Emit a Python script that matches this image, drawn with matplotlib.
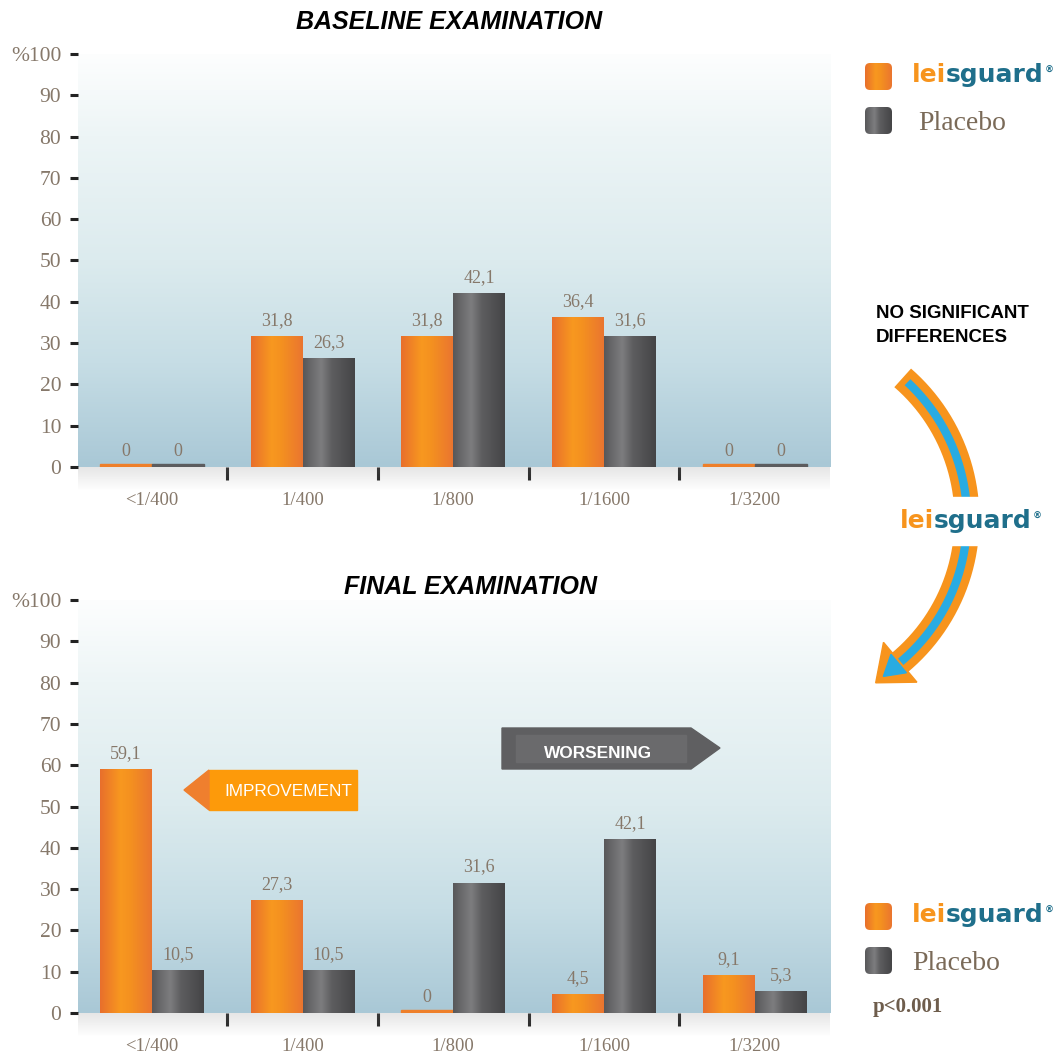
import numpy as np
import matplotlib.pyplot as plt
from matplotlib.colors import LinearSegmentedColormap
from matplotlib.patches import Polygon, Rectangle, FancyBboxPatch

# titre classes and % of dogs in each class
categories = ["<1/400", "1/400", "1/800", "1/1600", "1/3200"]
baseline_leisguard = [0, 31.8, 31.8, 36.4, 0]
baseline_placebo = [0, 26.3, 42.1, 31.6, 0]
final_leisguard = [59.1, 27.3, 0, 4.5, 9.1]
final_placebo = [10.5, 10.5, 31.6, 42.1, 5.3]
yticks = [0, 10, 20, 30, 40, 50, 60, 70, 80, 90, 100]
ytick_labels = ["0", "10", "20", "30", "40", "50", "60", "70", "80", "90", "%100"]

ORANGE = "#f7941d"
TEAL = "#1f6f8b"
BLUE = "#29abe2"
BROWN = "#86786a"
BAR_W = 0.345

plt.rcParams["font.family"] = ["Liberation Serif", "DejaVu Serif"]

orange_cmap = LinearSegmentedColormap.from_list(
    "orange", [(0, "#e86f2c"), (0.4, "#f8981f"), (0.6, "#f49020"), (1, "#ea7530")])
gray_cmap = LinearSegmentedColormap.from_list(
    "gray", [(0, "#58585a"), (0.35, "#7d7d7f"), (0.55, "#5e5e60"), (1, "#444446")])
bg_cmap = LinearSegmentedColormap.from_list(
    "bg", [(0, "#a9c8d6"), (0.25, "#c6dde5"), (0.5, "#dcebee"), (0.8, "#edf5f6"), (1, "#fdfefe")])

hgrad = np.linspace(0, 1, 256).reshape(1, -1)
vgrad = np.linspace(0, 1, 256).reshape(-1, 1)


def fmt(v):
    return f"{v:g}".replace(".", ",")


def draw_panel(ax, lei, pla):
    ax.imshow(vgrad, cmap=bg_cmap, extent=[0, 1, 0, 1], transform=ax.transAxes,
              aspect="auto", origin="lower", zorder=0)
    x = np.arange(len(categories))
    for offset, vals, cmap, stub in [(-BAR_W / 2, lei, orange_cmap, "#ee7f2a"),
                                     (BAR_W / 2, pla, gray_cmap, "#5c5c5e")]:
        bars = ax.bar(x + offset, vals, BAR_W, color="none", zorder=2)
        for b, v in zip(bars, vals):
            if v > 0:
                im = ax.imshow(hgrad, cmap=cmap, aspect="auto", zorder=2,
                               extent=[b.get_x(), b.get_x() + b.get_width(), 0, v])
                im.set_clip_path(b)
            else:
                # flat stub so empty classes still show on the baseline
                ax.add_patch(Rectangle((b.get_x(), 0), b.get_width(), 0.8,
                                       color=stub, zorder=2))
            ax.annotate(fmt(v), (b.get_x() + b.get_width() / 2, v), xytext=(0, 5),
                        textcoords="offset points", ha="center", va="bottom",
                        fontsize=13, color=BROWN)
    ax.set_xlim(-0.49, 4.5)
    ax.set_ylim(0, 100)
    ax.set_yticks(yticks, ytick_labels)
    ax.tick_params(axis="y", length=6, width=2.2, color="#222222", pad=6,
                   labelsize=15.5, labelcolor=BROWN)
    ax.set_xticks(x, categories)
    ax.set_xticks(x[:-1] + 0.5, minor=True)
    ax.tick_params(axis="x", which="major", length=0, pad=18, labelsize=13.5,
                   labelcolor=BROWN)
    ax.tick_params(axis="x", which="minor", length=9, width=2.2, color="#222222")
    for s in ax.spines.values():
        s.set_visible(False)


fig = plt.figure(figsize=(10.54, 10.56), dpi=100)
ax_top = fig.add_axes([0.074, 0.5578, 0.7135, 0.3911])
ax_bot = fig.add_axes([0.074, 0.0407, 0.7135, 0.3911])
draw_panel(ax_top, baseline_leisguard, baseline_placebo)
draw_panel(ax_bot, final_leisguard, final_placebo)

# overlay in pixel coordinates for titles, legends and arrows
ov = fig.add_axes([0, 0, 1, 1], zorder=5)
ov.set_xlim(0, 1054)
ov.set_ylim(1056, 0)
ov.axis("off")

# soft shadow under each plot area
shadow = np.zeros((30, 2, 4))
shadow[..., :3] = 0.55
shadow[..., 3] = np.linspace(0.22, 0, 30).reshape(-1, 1)
for y0 in (467, 1013):
    ov.imshow(shadow, extent=[78, 830, y0 + 24, y0], aspect="auto", zorder=1)
ov.set_xlim(0, 1054)
ov.set_ylim(1056, 0)

sans = dict(fontfamily="Liberation Sans", fontweight="bold")
ov.text(449, 22, "BASELINE EXAMINATION", ha="center", va="center", fontsize=18,
        fontstyle="italic", **sans)
ov.text(470, 587, "FINAL EXAMINATION", ha="center", va="center", fontsize=18,
        fontstyle="italic", **sans)
ov.text(876, 314, "NO SIGNIFICANT", ha="left", va="center", fontsize=13.5, **sans)
ov.text(876, 337, "DIFFERENCES", ha="left", va="center", fontsize=13.5, **sans)


def logo(x_split, y_base, size=18):
    kw = dict(fontfamily="DejaVu Sans", fontweight="bold", fontsize=size, va="baseline", zorder=4)
    ov.text(x_split, y_base, "lei", ha="right", color=ORANGE, **kw)
    t = ov.text(x_split, y_base, "sguard", ha="left", color=TEAL, **kw)
    ov.annotate("®", xy=(1, 1), xycoords=t, xytext=(0.5, -2), textcoords="offset points",
                ha="left", va="top", fontsize=6.5, color=TEAL, fontfamily="DejaVu Sans",
                fontweight="bold", zorder=4)


def swatch(x, y, cmap):
    box = FancyBboxPatch((x, y), 27, 27, boxstyle="round,pad=0,rounding_size=5",
                         facecolor="none", edgecolor="none", zorder=3)
    ov.add_patch(box)
    im = ov.imshow(hgrad, cmap=cmap, extent=[x, x + 27, y + 27, y], aspect="auto", zorder=3)
    im.set_clip_path(box)


def legend(y_top, placebo_x):
    swatch(865, y_top, orange_cmap)
    logo(946, y_top + 19)
    swatch(865, y_top + 44, gray_cmap)
    ov.text(placebo_x, y_top + 67, "Placebo", ha="left", va="baseline", fontsize=20,
            color="#7a6a58", zorder=4)


legend(63, 918)
legend(903, 912)
ov.text(873, 1012, "p<0.001", ha="left", va="baseline", fontsize=15, fontweight="bold",
        color="#6e5d4c")

# curved arrow between the two examinations
cx, cy, R = 780, 519, 187
th = np.radians(np.linspace(-49, 50, 200))
arc_x = cx + R * np.cos(th)
arc_y = cy + R * np.sin(th)
ov.plot(arc_x, arc_y, color=ORANGE, lw=18, solid_capstyle="butt", zorder=2)
ov.plot(arc_x[4:], arc_y[4:], color=BLUE, lw=6, solid_capstyle="butt", zorder=2)
end = np.array([arc_x[-1], arc_y[-1]])
tang = np.array([-np.sin(th[-1]), np.cos(th[-1])])
norm = np.array([tang[1], -tang[0]])
ov.add_patch(Polygon([end + norm * 26, end - norm * 26, end + tang * 32],
                     closed=True, color=ORANGE, zorder=2))
ov.add_patch(Polygon([end + norm * 12 + tang * 2, end - norm * 12 + tang * 2, end + tang * 22],
                     closed=True, color=BLUE, zorder=2))
ov.add_patch(Rectangle((886, 497), 160, 48, color="white", zorder=3))
logo(934, 528)

# improvement / worsening tags on the final panel
ov.add_patch(Polygon([(209, 770), (357, 770), (357, 810), (209, 810)], closed=True,
                     color="#fd9a0a", zorder=3))
ov.add_patch(Polygon([(184, 790), (209, 770), (209, 810)], closed=True,
                     color="#ef7f2e", zorder=3))
ov.text(288, 791, "IMPROVEMENT", ha="center", va="center", fontsize=12.4,
        fontfamily="Liberation Sans", color="white", zorder=4)
ov.add_patch(Polygon([(502, 728), (691, 728), (720, 748), (691, 769), (502, 769)],
                     closed=True, color="#5f5f61", zorder=3))
ov.add_patch(Rectangle((516, 735), 170, 27, color="#6a6a6c", zorder=3))
ov.text(598, 753, "WORSENING", ha="center", va="center", fontsize=12.4, color="white",
        zorder=4, **sans)

fig.savefig("out.png", dpi=100)
